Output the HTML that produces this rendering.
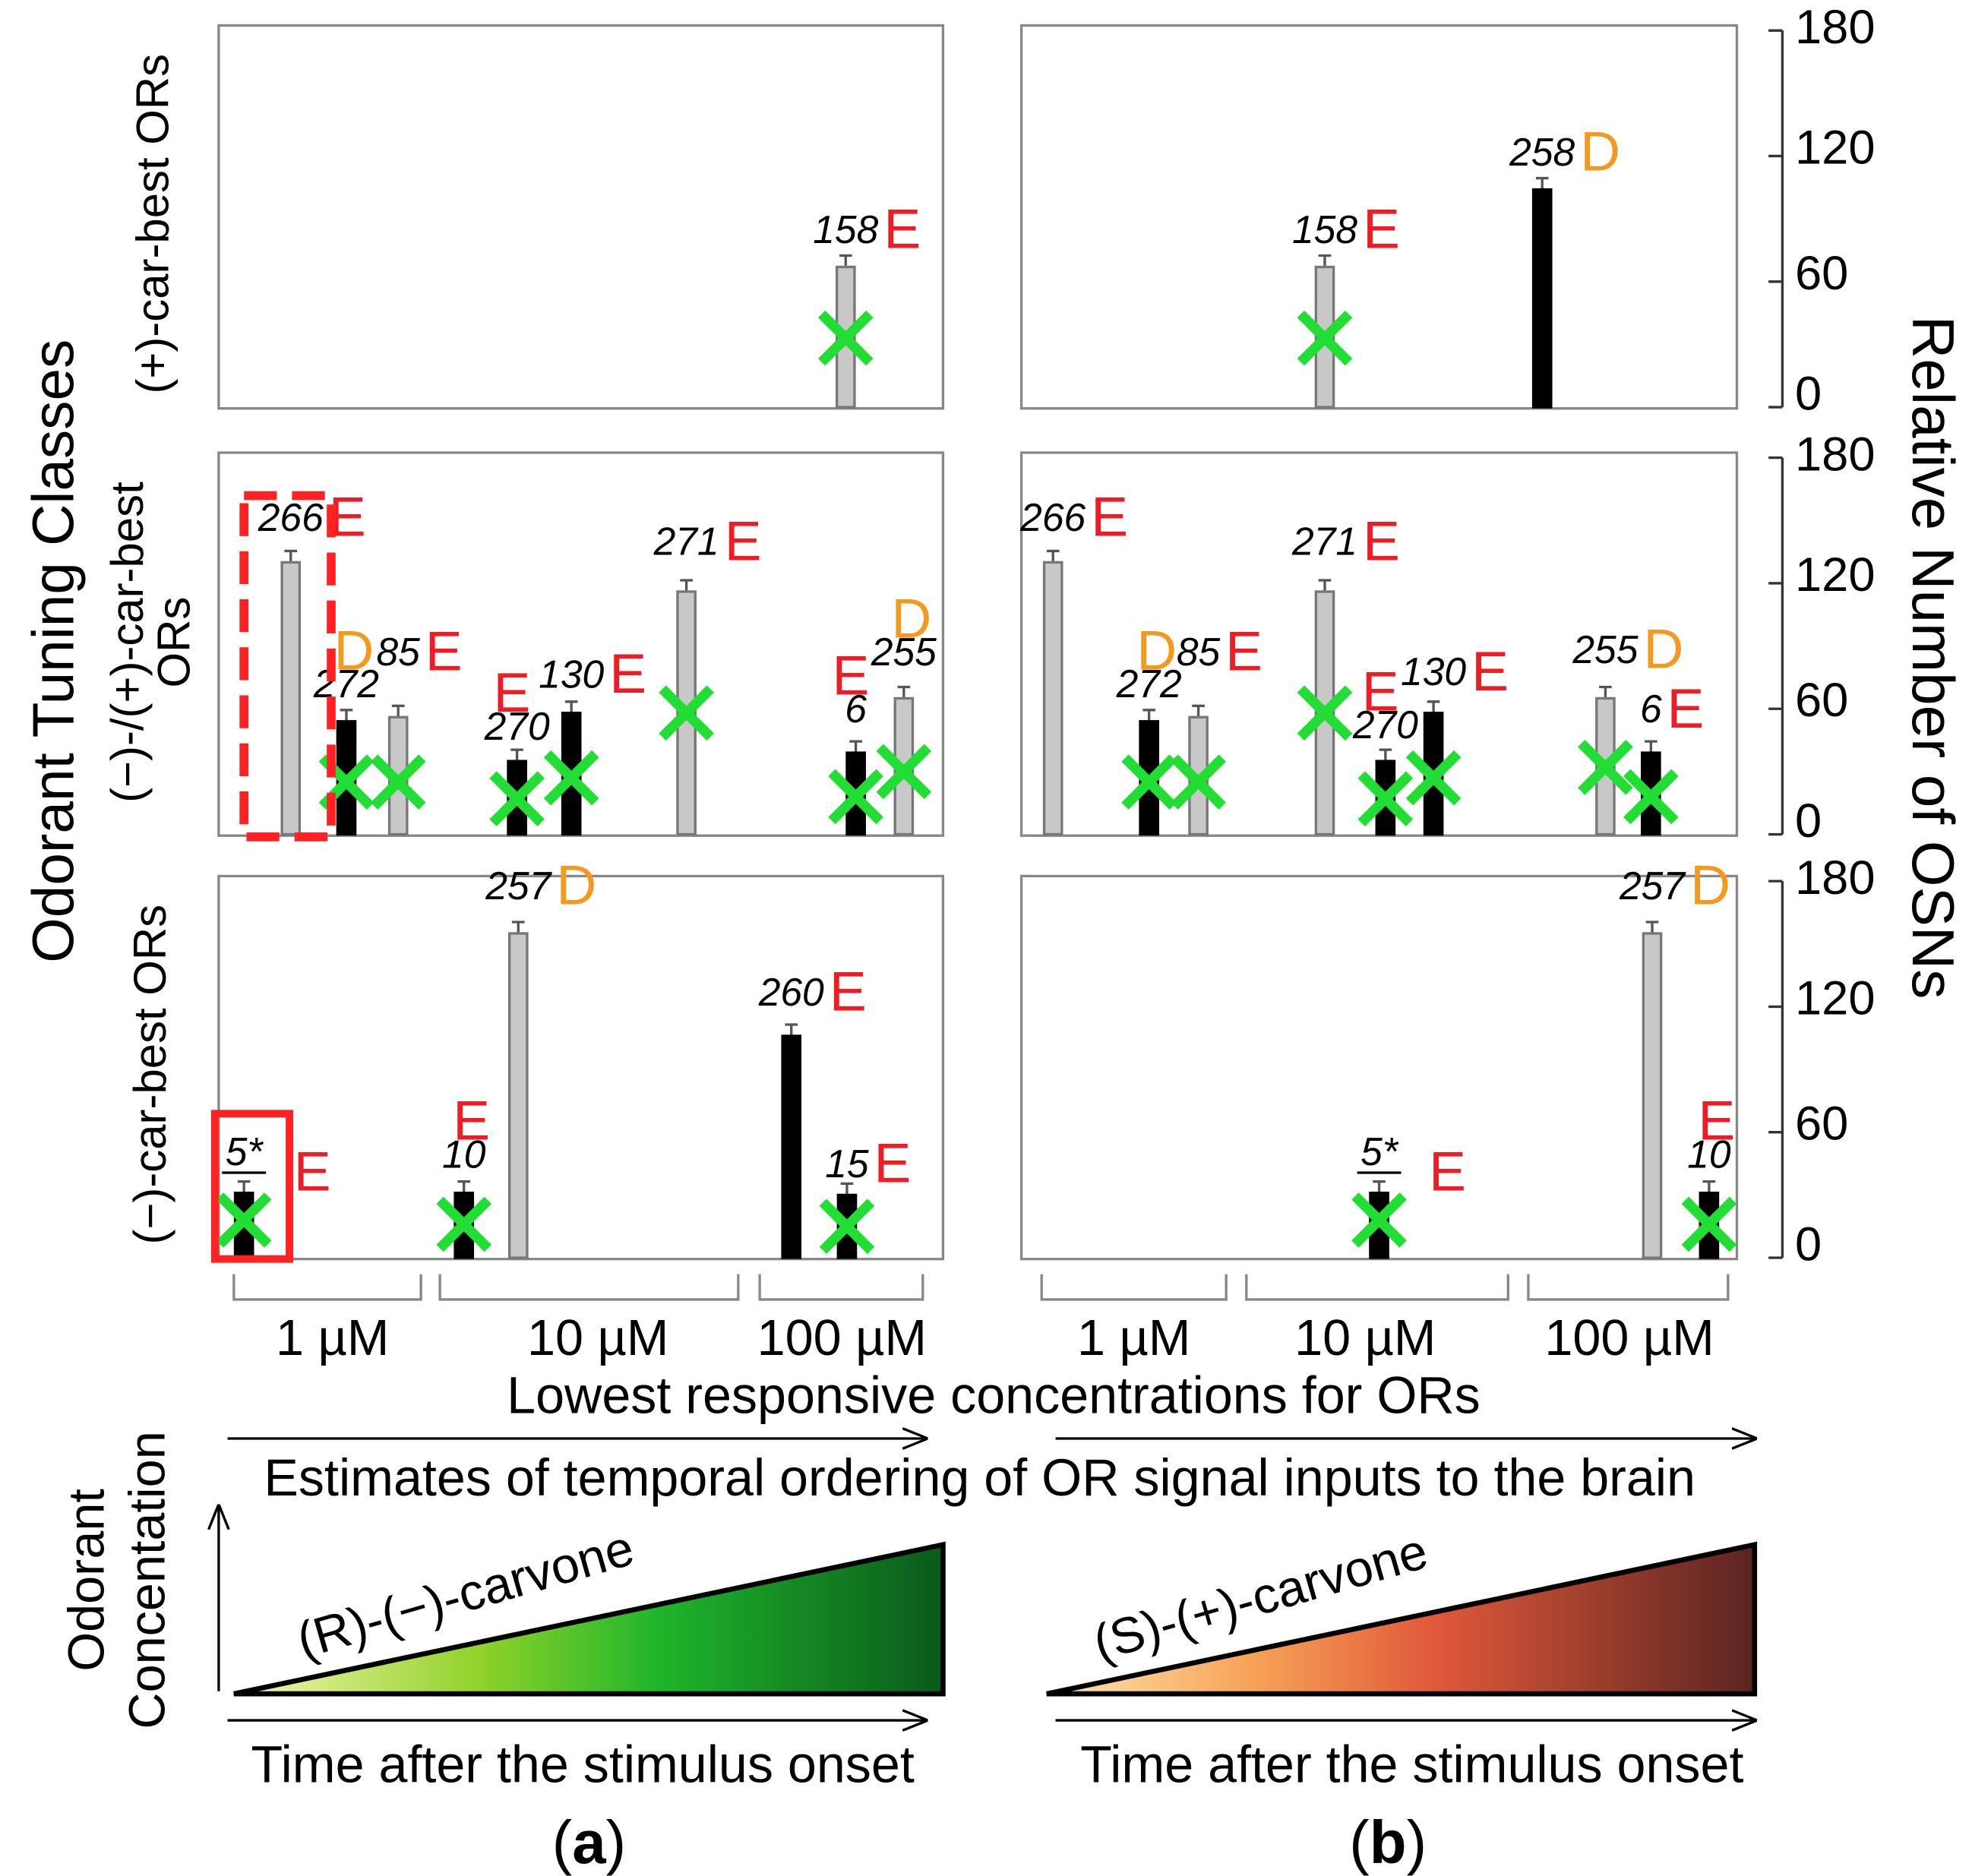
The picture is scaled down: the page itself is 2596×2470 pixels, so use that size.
<!DOCTYPE html>
<html><head><meta charset="utf-8"><style>
html,body{margin:0;padding:0;background:#fff}
svg{display:block}
text{font-family:"Liberation Sans",sans-serif}
</style></head><body>
<svg id="chart" width="2596" height="2470" viewBox="0 0 1560 1484" xmlns="http://www.w3.org/2000/svg">
<defs>
<linearGradient id="gGreen" x1="0" x2="1"><stop offset="0" stop-color="#f7f7b0"/><stop offset="0.35" stop-color="#8fd12a"/><stop offset="0.6" stop-color="#1fb52a"/><stop offset="1" stop-color="#0a5a1c"/></linearGradient>
<linearGradient id="gRed" x1="0" x2="1"><stop offset="0" stop-color="#fde6b0"/><stop offset="0.3" stop-color="#f6a055"/><stop offset="0.55" stop-color="#e0583a"/><stop offset="1" stop-color="#5a2420"/></linearGradient>
<marker id="arr" markerWidth="10" markerHeight="10" refX="9" refY="5" orient="auto"><path d="M0,1 L10,5 L0,9" fill="none" stroke="#000" stroke-width="1"/></marker>
</defs>
<g id="panels"></g>
<g>
<text x="58" y="515" font-size="46" transform="rotate(-90 58 515)" text-anchor="middle">Odorant Tuning Classes</text>
<text x="133" y="177" font-size="36" transform="rotate(-90 133 177)" text-anchor="middle">(+)-car-best ORs</text>
<text x="113" y="508" font-size="36" transform="rotate(-90 113 508)" text-anchor="middle">(−)-/(+)-car-best</text>
<text x="150" y="508" font-size="36" transform="rotate(-90 150 508)" text-anchor="middle">ORs</text>
<text x="131" y="850" font-size="36" transform="rotate(-90 131 850)" text-anchor="middle">(−)-car-best ORs</text>
<text x="1513" y="520" font-size="47" transform="rotate(90 1513 520)" text-anchor="middle">Relative Number of OSNs</text>
</g>
<g>
<text x="263" y="1072" font-size="40" text-anchor="middle">1 µM</text>
<text x="473" y="1072" font-size="40" text-anchor="middle">10 µM</text>
<text x="666" y="1072" font-size="40" text-anchor="middle">100 µM</text>
<text x="897" y="1072" font-size="40" text-anchor="middle">1 µM</text>
<text x="1080" y="1072" font-size="40" text-anchor="middle">10 µM</text>
<text x="1289" y="1072" font-size="40" text-anchor="middle">100 µM</text>
<text x="786" y="1118" font-size="41" text-anchor="middle">Lowest responsive concentrations for ORs</text>
<text x="775" y="1183" font-size="41" text-anchor="middle">Estimates of temporal ordering of OR signal inputs to the brain</text>
</g>
<g stroke="#888" stroke-width="2" fill="none">
<path d="M185,1008 V1028 H333 V1008"/><path d="M348,1008 V1028 H584 V1008"/><path d="M601,1008 V1028 H730 V1008"/>
<path d="M824,1008 V1028 H970 V1008"/><path d="M986,1008 V1028 H1193 V1008"/><path d="M1209,1008 V1028 H1367 V1008"/>
</g>
<g stroke="#000" stroke-width="2">
<line x1="180" y1="1138" x2="732" y2="1138" marker-end="url(#arr)"/>
<line x1="835" y1="1138" x2="1388" y2="1138" marker-end="url(#arr)"/>
<line x1="180" y1="1361" x2="732" y2="1361" marker-end="url(#arr)"/>
<line x1="835" y1="1361" x2="1388" y2="1361" marker-end="url(#arr)"/>
<line x1="173" y1="1338" x2="173" y2="1192" marker-end="url(#arr)"/>
</g>
<g>
<polygon points="185,1340 746,1222 746,1340" fill="url(#gGreen)" stroke="#000" stroke-width="4"/>
<polygon points="828,1340 1388,1222 1388,1340" fill="url(#gRed)" stroke="#000" stroke-width="4"/>
<text x="240" y="1312" font-size="40" transform="rotate(-16 240 1312)">(R)-(−)-carvone</text>
<text x="870" y="1314" font-size="40" transform="rotate(-16 870 1314)">(S)-(+)-carvone</text>
<text x="82" y="1250" font-size="40" transform="rotate(-90 82 1250)" text-anchor="middle">Odorant</text>
<text x="130" y="1250" font-size="40" transform="rotate(-90 130 1250)" text-anchor="middle">Concentation</text>
<text x="461" y="1410" font-size="41" text-anchor="middle">Time after the stimulus onset</text>
<text x="1117" y="1410" font-size="41" text-anchor="middle">Time after the stimulus onset</text>
<text x="466" y="1474" font-size="48" font-family="Liberation Serif" text-anchor="middle">(<tspan font-weight="bold">a</tspan>)</text>
<text x="1098" y="1474" font-size="48" font-family="Liberation Serif" text-anchor="middle">(<tspan font-weight="bold">b</tspan>)</text>
</g>
<rect x="193" y="392" width="69" height="270" fill="none" stroke="#f22" stroke-width="7" stroke-dasharray="26,12"/>
<rect x="170" y="881" width="59" height="115" fill="none" stroke="#f22" stroke-width="6"/>
</svg>
<script>
// data arrays
const yTicks = [0, 60, 120, 180];
const panelRows = [0, 0, 1, 1, 2, 2];
const panelSides = ['a', 'b', 'a', 'b', 'a', 'b'];
const barPanel = [0, 1, 1, 2,2,2,2,2,2,2,2, 3,3,3,3,3,3,3,3, 4,4,4,4,4, 5,5,5];
const barX     = [669, 1048,1220, 230,274,315,409,452,543,677,715, 833,909,948,1048,1096,1134,1270,1306, 193,367,410,626,670, 1091,1307,1352];
const barValues= [67, 67,104, 130,54,56,35,58,116,39,65, 130,54,56,116,35,58,65,39, 31,31,155,106,30, 31,155,31];
const barBlack = [0, 0,1, 0,1,0,1,1,0,1,0, 0,1,0,0,1,1,0,1, 1,1,0,1,1, 1,0,1];
const barLabels= ['158','158','258','266','272','85','270','130','271','6','255','266','272','85','271','270','130','255','6','5*','10','257','260','15','5*','257','10'];
const barLetters=['E','E','D','E','D','E','E','E','E','E','D','E','D','E','E','E','E','D','E','E','E','D','E','E','E','D','E'];
const crossValues=[33, 33,null, null,25,25,17,27,58,18,30, null,25,25,58,17,27,32,18, 18,16,null,null,15, 18,null,16];
// label layout (not data): vertical offset of number, letter placement mode
const labelDy  = [-19, -19,-19, -25,-19,-41,-17,-20,-29,-24,-26, -25,-19,-41,-29,-18,-22,-28,-24, -22,-20,-27,-24,-14, -22,-27,-20];
const letterMode=['r','r','r','r','u','r','ul','r','r','ul','u','r','u','r','r','ul','r','r','r','r2','u','r','r','r','r2','r','u'];

const rowTop=[20,358,693], rowH=303;
const sideX=[[173,746],[808,1374]];
const NS='http://www.w3.org/2000/svg';
const root=document.getElementById('panels');
function mk(tag,attrs,parent){const e=document.createElementNS(NS,tag);for(const k in attrs)e.setAttribute(k,attrs[k]);(parent||root).appendChild(e);return e;}
function yScale(row,v){const bottom=rowTop[row]+rowH-1;return bottom-v*(rowH-5)/180;}

for(let p=0;p<6;p++){
  const r=panelRows[p], s=panelSides[p]==='a'?0:1;
  const rect=mk('rect',{x:sideX[s][0],y:rowTop[r],width:sideX[s][1]-sideX[s][0],height:rowH,fill:'none',stroke:'#888','stroke-width':2});
  
  
}
for(let r=0;r<3;r++){
  const ax=mk('line',{x1:1410,x2:1410,y1:yScale(r,180),y2:yScale(r,0),stroke:'#333','stroke-width':2});
  
  
  yTicks.forEach(t=>{
    const y=yScale(r,t);
    mk('line',{x1:1399,x2:1410,y1:y,y2:y,stroke:'#333','stroke-width':2});
    const tx=mk('text',{x:1420,y:y+6+(t===180?4:0)-(t===0?4:0),'font-size':38});
    tx.textContent=t;
    
    
  });
}
for(let i=0;i<barX.length;i++){
  const p=barPanel[i], r=panelRows[p], x=barX[i], v=barValues[i];
  const y0=yScale(r,0), y1=yScale(r,v);
  const g=mk('g',{});
  
  
  mk('line',{x1:x,x2:x,y1:y1,y2:y1-9,stroke:'#555','stroke-width':2},g);
  mk('line',{x1:x-5,x2:x+5,y1:y1-9,y2:y1-9,stroke:'#555','stroke-width':2},g);
  mk('rect',{x:x-7,y:y1,width:14,height:y0-y1,fill:barBlack[i]?'#000':'#c8c8c8',stroke:barBlack[i]?'#000':'#777','stroke-width':2},g);
  const ly=y1+labelDy[i];
  const lt=mk('text',{x:x,y:ly,'font-size':31,'font-style':'italic','text-anchor':'middle'},g);
  lt.textContent=barLabels[i];
  
  
  const half=barLabels[i].length*8.7;
  if(barLabels[i].indexOf('*')>=0){
    mk('line',{x1:x-half,x2:x+half,y1:ly+6,y2:ly+6,stroke:'#000','stroke-width':2},g);
  }
  if(barLetters[i]){
    const m=letterMode[i];
    let lx, lyy, anchor='start';
    if(m==='r'){lx=x+half+4; lyy=ly+4;}
    else if(m==='r2'){lx=x+half+22; lyy=ly+20;}
    else if(m==='u'){lx=x+6; lyy=ly-22; anchor='middle';}
    else {lx=x-4; lyy=ly-22; anchor='middle';}
    const le=mk('text',{x:lx,y:lyy,'font-size':44,'text-anchor':anchor,fill:barLetters[i]==='D'?'#f39a1e':'#ee1c24'},g);
    le.textContent=barLetters[i];
    
    
  }
  if(crossValues[i]!==null){
    const cy=yScale(r,crossValues[i]);
    const c=mk('path',{d:`M${x-19},${cy-19} L${x+19},${cy+19} M${x+19},${cy-19} L${x-19},${cy+19}`,stroke:'#22dd33','stroke-width':8,fill:'none'});
    
    
  }
}
</script>
</body></html>
